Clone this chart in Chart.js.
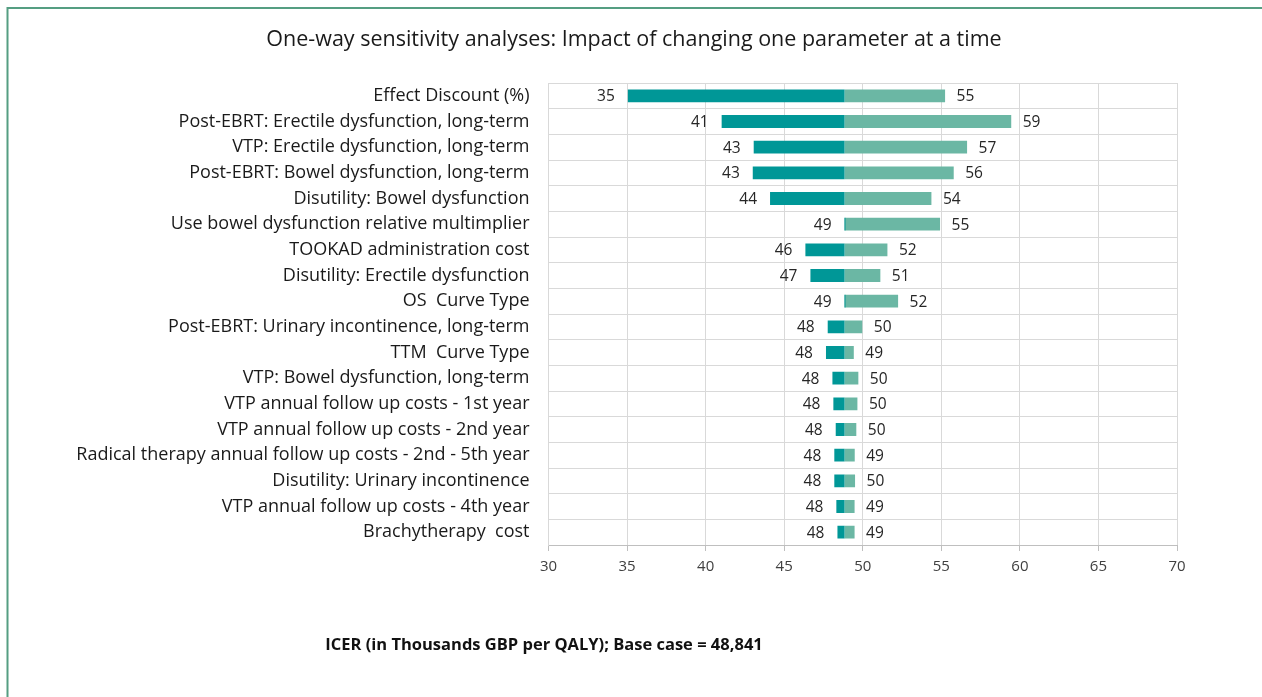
<!DOCTYPE html>
<html>
<head>
<meta charset="utf-8">
<script src="https://cdn.jsdelivr.net/npm/chart.js@4/dist/chart.umd.min.js"></script>
<style>
  html, body { margin: 0; padding: 0; background: #ffffff; }
  #wrap { width: 1262px; height: 697px; position: relative; }
</style>
</head>
<body>
<div id="wrap"><canvas id="tornado" width="1262" height="697"></canvas></div>
<script>
// Parameters varied in the one-way sensitivity analysis (top to bottom)
const categories = [
  "Effect Discount (%)",
  "Post-EBRT: Erectile dysfunction, long-term",
  "VTP: Erectile dysfunction, long-term",
  "Post-EBRT: Bowel dysfunction, long-term",
  "Disutility: Bowel dysfunction",
  "Use bowel dysfunction relative multimplier",
  "TOOKAD administration cost",
  "Disutility: Erectile dysfunction",
  "OS  Curve Type",
  "Post-EBRT: Urinary incontinence, long-term",
  "TTM  Curve Type",
  "VTP: Bowel dysfunction, long-term",
  "VTP annual follow up costs - 1st year",
  "VTP annual follow up costs - 2nd year",
  "Radical therapy annual follow up costs - 2nd - 5th year",
  "Disutility: Urinary incontinence",
  "VTP annual follow up costs - 4th year",
  "Brachytherapy  cost"
];

// ICER (thousands GBP per QALY) at the lower and upper parameter bound
const lowValues  = [35.05, 41.02, 43.06, 43.00, 44.10, 48.90, 46.35, 46.67, 48.90,
                    47.77, 47.66, 48.07, 48.13, 48.28, 48.19, 48.19, 48.32, 48.39];
const highValues = [55.24, 59.45, 56.64, 55.79, 54.37, 54.92, 51.57, 51.12, 52.25,
                    49.97, 49.43, 49.72, 49.66, 49.59, 49.49, 49.51, 49.48, 49.48];

// Base case ICER (thousands)
const baseCase = 48.841;

// Axis ticks
const xTicks = [30, 35, 40, 45, 50, 55, 60, 65, 70];

const titleText = "One-way sensitivity analyses: Impact of changing one parameter at a time";
const axisNote = "ICER (in Thousands GBP per QALY); Base case = 48,841";

const DARK = "#009797";
const LIGHT = "#6bb7a4";
const FONT = "'Open Sans', 'Noto Sans', sans-serif";

// Outer frame, title and footnote
const framePlugin = {
  id: "frame",
  beforeDraw(chart) {
    const ctx = chart.ctx;
    ctx.save();
    ctx.fillStyle = "#ffffff";
    ctx.fillRect(0, 0, chart.width, chart.height);
    ctx.strokeStyle = "#559e82";
    ctx.lineWidth = 2;
    ctx.beginPath();
    ctx.moveTo(7.5, chart.height);
    ctx.lineTo(7.5, 8);
    ctx.lineTo(chart.width, 8);
    ctx.stroke();
    ctx.restore();
  },
  afterDraw(chart) {
    const ctx = chart.ctx;
    ctx.save();
    ctx.fillStyle = "#1a1a1a";
    ctx.textAlign = "center";
    ctx.textBaseline = "middle";
    ctx.font = "21.5px " + FONT;
    ctx.fillText(titleText, 634, 40);
    ctx.font = "bold 16.5px " + FONT;
    ctx.fillStyle = "#111111";
    ctx.fillText(axisNote, 544, 645);
    ctx.restore();
  }
};

// Value labels at the outer end of each bar
const valueLabels = {
  id: "valueLabels",
  afterDatasetsDraw(chart) {
    const ctx = chart.ctx;
    ctx.save();
    ctx.font = "15.5px " + FONT;
    ctx.fillStyle = "#262626";
    ctx.textBaseline = "middle";
    chart.data.datasets.forEach((ds, i) => {
      const meta = chart.getDatasetMeta(i);
      const source = i === 0 ? lowValues : highValues;
      meta.data.forEach((el, j) => {
        const p = el.getProps(["x", "base", "y"], true);
        const txt = String(Math.round(source[j]));
        if (i === 0) {
          ctx.textAlign = "right";
          ctx.fillText(txt, Math.min(p.x, p.base) - 13, p.y + 1);
        } else {
          ctx.textAlign = "left";
          ctx.fillText(txt, Math.max(p.x, p.base) + 11.5, p.y + 1);
        }
      });
    });
    ctx.restore();
  }
};

new Chart(document.getElementById("tornado"), {
  type: "bar",
  data: {
    labels: categories,
    datasets: [
      {
        label: "Lower bound",
        data: lowValues.map(v => [v, baseCase]),
        backgroundColor: DARK,
        grouped: false,
        barPercentage: 0.5,
        categoryPercentage: 1.0
      },
      {
        label: "Upper bound",
        data: highValues.map(v => [baseCase, v]),
        backgroundColor: LIGHT,
        grouped: false,
        barPercentage: 0.5,
        categoryPercentage: 1.0
      }
    ]
  },
  options: {
    indexAxis: "y",
    responsive: false,
    animation: false,
    layout: { padding: { left: 10, right: 85, top: 83, bottom: 122 } },
    plugins: {
      legend: { display: false },
      title: { display: false },
      tooltip: { enabled: false }
    },
    scales: {
      x: {
        type: "linear",
        min: xTicks[0],
        max: xTicks[xTicks.length - 1],
        afterBuildTicks(scale) { scale.ticks = xTicks.map(v => ({ value: v })); },
        afterFit(scale) { scale.height = 30; },
        grid: { color: "#d9d9d9", tickColor: "#bfbfbf", tickLength: 6 },
        border: { color: "#bfbfbf", width: 1 },
        ticks: {
          padding: 7,
          color: "#404040",
          font: { family: FONT, size: 15 }
        }
      },
      y: {
        afterFit(scale) { scale.width = 548.5 - 10; },
        grid: { color: "#d9d9d9", offset: true, drawTicks: false },
        border: { color: "#d9d9d9", width: 1 },
        ticks: {
          padding: 19,
          color: "#1a1a1a",
          autoSkip: false,
          font: { family: FONT, size: 18 }
        }
      }
    }
  },
  plugins: [framePlugin, valueLabels]
});
</script>
</body>
</html>
